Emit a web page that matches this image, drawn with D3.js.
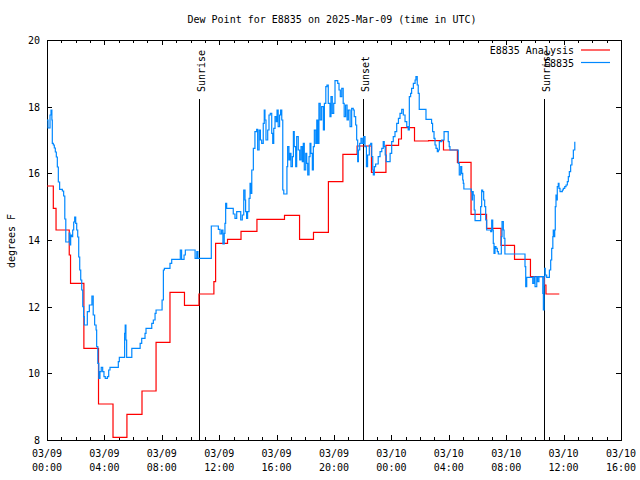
<!DOCTYPE html>
<html><head><meta charset="utf-8">
<script src="https://cdn.jsdelivr.net/npm/d3@7"></script>
<style>body{margin:0;background:#fff}text{font-family:"DejaVu Sans Mono",monospace;font-size:10px;fill:#000}</style>
</head><body><svg id="c" width="640" height="480"></svg>
<script>
const title = "Dew Point for E8835 on 2025-Mar-09 (time in UTC)";
const yLabel = "degrees F";
const seriesNames = ["E8835 Analysis", "E8835"];
const xTickDates = ["03/09","03/09","03/09","03/09","03/09","03/09","03/10","03/10","03/10","03/10","03/10"];
const xTickTimes = ["00:00","04:00","08:00","12:00","16:00","20:00","00:00","04:00","08:00","12:00","16:00"];
const yTicks = [8,10,12,14,16,18,20];
const sunEvents = ["Sunrise","Sunset","Sunrise"];
const sunHours = [10.61, 22.04, 34.63];

// Analysis (hours since 03/09 00:00 UTC, degrees F)
const anaHours = [0,0.44,0.63,1.55,1.64,2.57,3.59,4.60,5.57,6.62,7.60,8.57,9.58,10.59,11.63,11.75,12.58,13.52,14.63,16.55,17.60,18.57,19.61,20.62,21.61,22.61,23.62,24.50,24.70,25.61,26.59,27.63,28.60,29.55,30.63,31.64,32.58,33.69,34.67,34.77,35.70];
const anaValues = [15.62,14.95,14.3,13.55,12.7,10.75,9.08,8.08,8.77,9.47,10.93,12.43,12.04,12.38,12.75,13.9,14.02,14.26,14.62,14.74,14.02,14.23,15.75,16.57,16.82,16.03,16.84,17.03,17.37,16.97,16.98,16.7,16.33,14.77,14.35,13.84,13.42,12.9,12.65,12.38,12.38];

// Observations
const obsHours = [0.00,0.07,0.21,0.28,0.34,0.37,0.44,0.51,0.58,0.65,0.72,0.79,0.88,1.07,1.16,1.24,1.31,1.53,1.55,1.60,1.65,1.72,1.79,1.86,1.93,2.00,2.07,2.14,2.21,2.28,2.35,2.42,2.49,2.55,2.60,2.81,2.95,3.13,3.22,3.32,3.42,3.46,3.54,3.61,3.69,3.78,3.88,3.97,4.06,4.21,4.30,4.39,4.97,5.04,5.41,5.45,5.50,5.55,5.91,6.49,6.60,6.83,6.90,7.30,7.41,7.53,7.60,8.02,8.11,8.18,8.57,8.69,9.29,9.38,9.55,9.64,10.32,10.44,10.52,11.45,11.94,12.06,12.17,12.26,12.35,12.40,12.45,12.52,12.98,13.10,13.22,13.50,13.61,13.71,13.80,13.84,13.91,13.98,14.08,14.15,14.22,14.27,14.38,14.49,14.61,14.68,14.78,14.87,14.96,15.07,15.14,15.19,15.26,15.38,15.47,15.56,15.66,15.73,15.80,15.89,15.98,16.03,16.11,16.21,16.28,16.36,16.43,16.50,16.72,16.77,16.86,16.93,17.00,17.10,17.17,17.23,17.33,17.40,17.51,17.61,17.70,17.79,17.86,17.93,18.03,18.10,18.17,18.26,18.33,18.39,18.49,18.56,18.63,18.73,18.80,18.87,18.95,19.04,19.14,19.26,19.33,19.43,19.51,19.60,19.72,19.79,19.88,19.98,20.07,20.26,20.35,20.44,20.54,20.64,20.71,20.81,20.91,21.00,21.12,21.23,21.34,21.41,21.51,21.58,21.65,21.70,21.79,21.88,21.97,22.07,22.16,22.26,22.34,22.46,22.56,22.63,22.70,22.74,22.81,22.90,23.08,23.21,23.33,23.43,23.50,23.57,23.64,23.91,24.02,24.13,24.25,24.37,24.49,24.60,24.72,24.83,24.95,25.07,25.17,25.25,25.34,25.41,25.53,25.65,25.71,25.80,25.87,25.94,26.41,26.80,26.87,26.97,27.04,27.11,27.20,27.27,27.34,27.50,27.67,27.96,28.03,28.08,28.66,28.73,28.83,28.90,28.97,29.01,29.05,29.57,29.62,29.66,29.70,29.77,29.83,30.22,30.29,30.36,30.43,30.50,30.57,30.64,30.92,30.99,31.06,31.10,31.15,31.22,31.29,31.38,31.45,31.66,31.71,31.80,31.85,31.91,33.31,33.36,33.43,33.85,33.94,34.01,34.13,34.19,34.28,34.55,34.59,34.64,34.69,34.72,34.82,35.01,35.10,35.17,35.25,35.28,35.33,35.38,35.42,35.47,35.52,35.56,35.63,35.68,35.75,35.91,35.98,36.08,36.17,36.26,36.33,36.40,36.49,36.58,36.68,36.78];
const obsValues = [17.6,17.36,17.75,17.9,17.6,16.9,16.85,16.76,16.64,16.49,16.19,15.74,15.52,15.47,15.32,14.63,13.94,13.94,14.21,13.85,14.15,14.1,14.3,14.54,14.69,14.5,14.3,14.09,13.49,13.1,12.8,12.5,12.0,11.7,11.45,11.85,12.05,12.32,11.75,11.45,11.3,10.8,10.3,9.85,10.05,10.18,10.05,9.9,9.85,9.9,10.1,10.18,10.35,10.48,11.2,11.45,11.0,10.48,10.75,10.9,11.05,11.2,11.35,11.5,11.6,11.8,11.9,12.2,13.1,13.15,13.3,13.42,13.7,13.42,13.55,13.7,13.45,13.65,13.45,14.42,14.32,14.18,14.3,13.88,14.2,14.5,15.1,14.95,14.78,14.65,14.85,14.6,14.75,15.5,15.2,14.85,14.65,14.85,15.25,15.7,15.4,16.1,16.75,17.25,17.32,16.7,17.3,17.0,16.9,17.5,17.9,17.6,17.0,17.3,17.75,17.8,17.2,16.9,17.35,17.7,17.55,17.9,17.4,17.75,17.9,17.6,15.5,15.38,16.2,16.8,16.4,16.6,16.2,16.5,17.25,16.8,16.2,17.1,16.7,16.4,16.8,16.35,16.9,16.1,16.6,16.3,15.95,16.5,16.9,16.6,16.1,16.8,17.3,16.9,17.6,16.9,18.1,17.6,18.0,17.3,18.1,18.6,18.65,18.1,17.7,18.3,17.8,18.1,18.78,18.7,18.5,18.3,18.55,18.1,17.7,18.05,17.6,17.9,17.4,17.95,17.9,17.7,17.45,17.0,16.35,16.7,16.9,17.05,16.9,17.1,16.8,16.2,16.55,16.85,16.9,16.5,16.1,15.95,16.2,16.28,16.5,16.65,16.75,16.95,16.8,16.55,16.35,16.6,16.95,17.1,17.25,17.5,17.65,17.8,17.92,17.75,17.55,17.4,17.3,18.3,18.4,18.55,18.7,18.8,18.9,18.65,18.4,17.92,17.62,17.5,17.25,17.05,16.85,16.75,16.65,16.7,16.95,17.0,17.25,16.95,16.8,16.7,16.3,15.95,16.2,16.0,15.8,15.7,15.53,15.45,15.2,15.45,15.35,14.9,14.58,15.0,15.5,15.45,15.2,15.0,14.6,14.3,14.25,14.6,14.3,13.9,13.6,13.8,13.75,13.65,13.58,14.1,14.55,14.3,14.05,13.58,13.2,12.6,12.88,12.7,12.9,12.6,12.9,12.75,12.9,12.4,11.9,12.9,13.15,12.95,12.88,13.1,13.4,13.75,14.1,14.3,14.1,14.3,15.0,15.35,15.2,15.6,15.7,15.55,15.45,15.5,15.55,15.6,15.65,15.75,15.9,16.05,16.25,16.45,16.7,16.95];

const svg = d3.select("#c");
const L = 47, R = 621, T = 40, B = 440;
const x = d3.scaleLinear().domain([0, 40]).range([L, R]);
const y = d3.scaleLinear().domain([8, 20]).range([B, T]);

// border
svg.append("rect").attr("x", L + 0.5).attr("y", T + 0.5).attr("width", R - L).attr("height", B - T)
  .attr("fill", "none").attr("stroke", "#000").attr("stroke-width", 1).attr("shape-rendering", "crispEdges");

const tickG = svg.append("g").attr("stroke", "#000").attr("shape-rendering", "crispEdges");
// x ticks (minor hourly, major every 4h), inward on bottom and top
d3.range(0, 41, 1).forEach(h => {
  const len = h % 4 === 0 ? 5 : 3;
  const xp = Math.round(x(h)) + 0.5;
  tickG.append("line").attr("x1", xp).attr("x2", xp).attr("y1", B).attr("y2", B - len);
  tickG.append("line").attr("x1", xp).attr("x2", xp).attr("y1", T).attr("y2", T + len);
});
// y ticks
yTicks.forEach(v => {
  const yp = Math.round(y(v)) + 0.5;
  tickG.append("line").attr("x1", L).attr("x2", L + 5).attr("y1", yp).attr("y2", yp);
  tickG.append("line").attr("x1", R).attr("x2", R - 5).attr("y1", yp).attr("y2", yp);
});

// y tick labels
svg.append("g").selectAll("text").data(yTicks).join("text")
  .attr("x", 40).attr("y", d => y(d) + 4).attr("text-anchor", "end").text(d => d);

// x tick labels
const xl = svg.append("g");
xTickTimes.forEach((t, i) => {
  const xp = x(i * 4);
  xl.append("text").attr("x", xp).attr("y", 457).attr("text-anchor", "middle").text(xTickDates[i]);
  xl.append("text").attr("x", xp).attr("y", 471).attr("text-anchor", "middle").text(t);
});

// title and axis label
svg.append("text").attr("x", 332).attr("y", 23).attr("text-anchor", "middle").text(title);
svg.append("text").attr("transform", "translate(15,241) rotate(-90)").attr("text-anchor", "middle").text(yLabel);

// sunrise/sunset lines
sunHours.forEach((h, i) => {
  const xp = Math.round(x(h)) + 0.5;
  svg.append("line").attr("x1", xp).attr("x2", xp).attr("y1", 99).attr("y2", B)
    .attr("stroke", "#000").attr("stroke-width", 1).attr("shape-rendering", "crispEdges");
  svg.append("text").attr("transform", `translate(${xp + 5},92) rotate(-90)`).text(sunEvents[i]);
});

// series
const line = d3.line().x(d => x(d[0])).y(d => y(d[1])).curve(d3.curveStepAfter);
const ana = anaHours.map((h, i) => [h, anaValues[i]]);
const obs = obsHours.map((h, i) => [h, obsValues[i]]);
svg.append("path").datum(ana).attr("d", line).attr("fill", "none").attr("stroke", "#ff0000").attr("stroke-width", 1.2);
svg.append("path").datum(obs).attr("d", line).attr("fill", "none").attr("stroke", "#0088ff").attr("stroke-width", 1.2);

// legend
const colors = ["#ff0000", "#0088ff"];
seriesNames.forEach((n, i) => {
  const yy = 50 + i * 12.5;
  svg.append("text").attr("x", 574).attr("y", yy + 4).attr("text-anchor", "end").text(n);
  svg.append("line").attr("x1", 581).attr("x2", 610).attr("y1", yy).attr("y2", yy)
    .attr("stroke", colors[i]).attr("stroke-width", 1.2);
});
</script></body></html>
